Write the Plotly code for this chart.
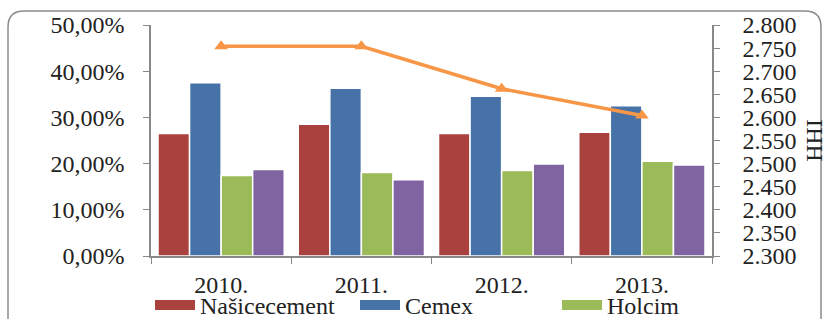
import plotly.graph_objects as go

years = ["2010.", "2011.", "2012.", "2013."]
nasicecement = [0.265, 0.285, 0.265, 0.268]
cemex = [0.375, 0.363, 0.346, 0.325]
holcim = [0.174, 0.181, 0.185, 0.205]
others = [0.187, 0.165, 0.199, 0.197]
hhi = [2754, 2754, 2662, 2604]

names = ["Našicecement", "Cemex", "Holcim", "Ostali"]
series = [nasicecement, cemex, holcim, others]
colors = ["#A9423F", "#4672A8", "#9BBB59", "#8064A2"]
orange = "#F79646"

W, H = 827, 319
L, T = 151, 25
R = W - 712
B = H - 256
pw, ph = W - L - R, H - T - B

def px(x):  # screen px -> paper
    return (x - L) / pw

def py(y):
    return (H - B - y) / ph

fig = go.Figure()
for n, s, c in zip(names, series, colors):
    fig.add_trace(go.Bar(x=years, y=s, name=n, marker=dict(color=c, line=dict(color="white", width=1.5)),
                         showlegend=False))
fig.add_trace(go.Scatter(x=years, y=hhi, yaxis="y2", mode="lines+markers", name="HHI",
                         line=dict(color=orange, width=3.5),
                         marker=dict(symbol="triangle-up", size=12, color=orange),
                         showlegend=False))
# legend entries (wide swatches), one legend each so they sit on a single row
legend_ids = ["legend", "legend2", "legend3"]
for n, c, lg in zip(names[:3], colors[:3], legend_ids):
    fig.add_trace(go.Scatter(x=[None], y=[None], mode="lines", name=n, legend=lg,
                             line=dict(color=c, width=10), showlegend=True))

# rounded border
x0, x1, y0, y1, r = 8, 821, 11, 340, 16
path = (f"M {px(x0)},{py(y1)} L {px(x0)},{py(y0 + r)} Q {px(x0)},{py(y0)} {px(x0 + r)},{py(y0)} "
        f"L {px(x1 - r)},{py(y0)} Q {px(x1)},{py(y0)} {px(x1)},{py(y0 + r)} L {px(x1)},{py(y1)}")

fs = 24
leg_common = dict(orientation="h", xref="container", xanchor="left", yref="container",
                  y=(H - 283) / H, yanchor="top", itemwidth=40, bgcolor="rgba(0,0,0,0)",
                  font=dict(size=fs))
swatch_left = [157, 362, 564]

fig.update_layout(
    width=W, height=H,
    margin=dict(l=L, r=R, t=T, b=B, autoexpand=False),
    paper_bgcolor="white", plot_bgcolor="white",
    separators=",.",
    font=dict(family="Liberation Serif", size=fs, color="#222222"),
    barmode="group", bargap=0.1, bargroupgap=0,
    xaxis=dict(showline=True, linecolor="#888888", linewidth=1.5, ticks="outside", tickson="boundaries",
               ticklen=6, tickcolor="#888888", showgrid=False, automargin=False, ticklabelstandoff=6),
    yaxis=dict(range=[0, 0.5], dtick=0.1, tickformat=".2%", showline=True, linecolor="#888888", linewidth=1.5,
               ticks="outside", ticklen=6, tickcolor="#888888", showgrid=False, zeroline=False,
               automargin=False, ticklabelstandoff=14),
    yaxis2=dict(range=[2300, 2800], dtick=50, tickformat=",d", overlaying="y", side="right",
                showline=True, linecolor="#888888", linewidth=1.5, ticks="outside", ticklen=6,
                tickcolor="#888888", showgrid=False, zeroline=False, automargin=False, ticklabelstandoff=18,
                title=dict(text="HHI", font=dict(size=fs), standoff=15)),
    legend=dict(leg_common, x=(swatch_left[0] - 7) / W),
    legend2=dict(leg_common, x=(swatch_left[1] - 7) / W),
    legend3=dict(leg_common, x=(swatch_left[2] - 7) / W),
    shapes=[dict(type="path", path=path, xref="paper", yref="paper",
                 line=dict(color="#8C8C8C", width=1.5), layer="below")],
)
fig.write_html("out.html", config={"displayModeBar": False},
               post_script="document.body.style.margin='0';document.body.style.overflow='hidden';")
